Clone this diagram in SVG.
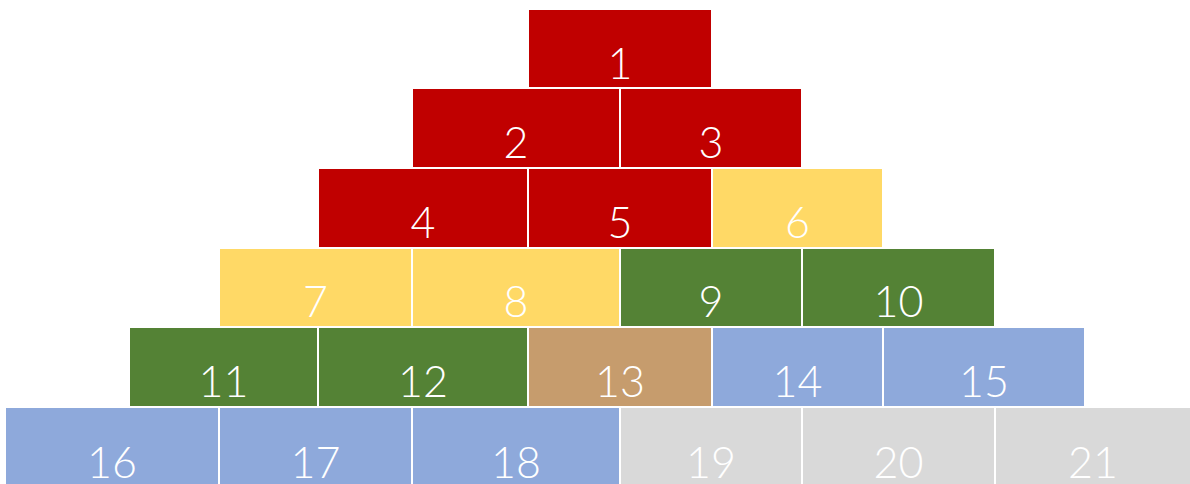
<svg xmlns="http://www.w3.org/2000/svg" width="1190" height="484" viewBox="0 0 1190 484">
<style>
.t{font-family:Lato,"Liberation Sans",sans-serif;font-size:43px;font-weight:300;fill:#ffffff;text-anchor:middle}
.r{fill:#C00000}.y{fill:#FFD966}.g{fill:#548235}.b{fill:#C69C6D}.u{fill:#8EA9DB}.s{fill:#D9D9D9}
</style>
<rect width="1190" height="484" fill="#ffffff"/>
<g id="n1"><rect class="r" x="529" y="10" width="182" height="77"/><text class="t" x="620" y="79">1</text></g>
<g id="n2"><rect class="r" x="413" y="89" width="206" height="78"/><text class="t" x="516" y="158">2</text></g>
<g id="n3"><rect class="r" x="621" y="89" width="180" height="78"/><text class="t" x="711" y="158">3</text></g>
<g id="n4"><rect class="r" x="319" y="169" width="208" height="78"/><text class="t" x="423" y="238">4</text></g>
<g id="n5"><rect class="r" x="529" y="169" width="182" height="78"/><text class="t" x="620" y="238">5</text></g>
<g id="n6"><rect class="y" x="713" y="169" width="169" height="78"/><text class="t" x="797.5" y="238">6</text></g>
<g id="n7"><rect class="y" x="220" y="249" width="191" height="77"/><text class="t" x="315.5" y="317">7</text></g>
<g id="n8"><rect class="y" x="413" y="249" width="206" height="77"/><text class="t" x="516" y="317">8</text></g>
<g id="n9"><rect class="g" x="621" y="249" width="180" height="77"/><text class="t" x="711" y="317">9</text></g>
<g id="n10"><rect class="g" x="803" y="249" width="191" height="77"/><text class="t" x="898.5" y="317">10</text></g>
<g id="n11"><rect class="g" x="130" y="328" width="187" height="78"/><text class="t" x="223.5" y="397">11</text></g>
<g id="n12"><rect class="g" x="319" y="328" width="208" height="78"/><text class="t" x="423" y="397">12</text></g>
<g id="n13"><rect class="b" x="529" y="328" width="182" height="78"/><text class="t" x="620" y="397">13</text></g>
<g id="n14"><rect class="u" x="713" y="328" width="169" height="78"/><text class="t" x="797.5" y="397">14</text></g>
<g id="n15"><rect class="u" x="884" y="328" width="200" height="78"/><text class="t" x="984" y="397">15</text></g>
<g id="n16"><rect class="u" x="6" y="408" width="212" height="80"/><text class="t" x="112" y="478">16</text></g>
<g id="n17"><rect class="u" x="220" y="408" width="191" height="80"/><text class="t" x="315.5" y="478">17</text></g>
<g id="n18"><rect class="u" x="413" y="408" width="206" height="80"/><text class="t" x="516" y="478">18</text></g>
<g id="n19"><rect class="s" x="621" y="408" width="180" height="80"/><text class="t" x="711" y="478">19</text></g>
<g id="n20"><rect class="s" x="803" y="408" width="191" height="80"/><text class="t" x="898.5" y="478">20</text></g>
<g id="n21"><rect class="s" x="996" y="408" width="194" height="80"/><text class="t" x="1093" y="478">21</text></g>
<g id="connectors"></g>
</svg>
